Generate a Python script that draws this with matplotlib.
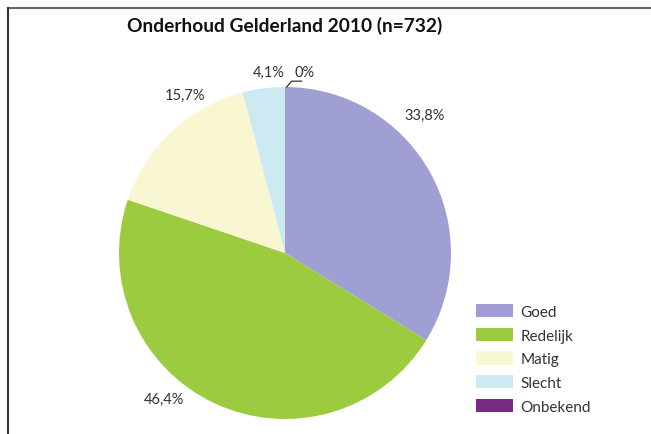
import numpy as np
import matplotlib
matplotlib.use("Agg")
import matplotlib.pyplot as plt
from matplotlib.patches import Patch
from matplotlib.lines import Line2D

plt.rcParams['font.family'] = ['Lato', 'DejaVu Sans']

# onderhoudstoestand, aandeel in procenten
categories = ['Goed', 'Redelijk', 'Matig', 'Slecht', 'Onbekend']
shares = [33.8, 46.4, 15.7, 4.1, 0.0]
share_labels = ['33,8%', '46,4%', '15,7%', '4,1%', '0%']
colors = ['#a09fd3', '#9dcb3f', '#f9f6d2', '#cde9f1', '#7b2a84']
title = 'Onderhoud Gelderland 2010 (n=732)'

# label positions (x, y) in pie radius units
label_pos = [(0.84, 0.83), (-0.73, -0.88), (-0.60, 0.95), (-0.10, 1.09), (0.12, 1.09)]

W, H = 651, 435
fig = plt.figure(figsize=(W / 100, H / 100), dpi=100)
cx, cy, r = 285, 254, 166
ax = fig.add_axes([(cx - r) / W, (H - cy - r) / H, 2 * r / W, 2 * r / H])

ax.pie(shares, colors=colors, startangle=90, counterclock=False, radius=1,
       wedgeprops=dict(linewidth=0))
ax.set_xlim(-1, 1)
ax.set_ylim(-1, 1)
ax.axis('off')

for txt, (x, y) in zip(share_labels, label_pos):
    ax.text(x, y, txt, ha='center', va='center', fontsize=10.5, color='#333333')

# leader line for the empty slice
ax.plot([0.01, 0.04, 0.10], [1.0, 1.035, 1.035], color='#333333', lw=0.9, clip_on=False)

fig.text(cx / W, 1 - 26 / H, title, ha='center', va='center',
         fontsize=13.8, fontweight='bold', color='#111111')

handles = [Patch(facecolor=c, edgecolor='none', label=l) for c, l in zip(colors, categories)]
fig.legend(handles=handles, loc='upper left', bbox_to_anchor=(476 / W, 1 - 305 / H),
           frameon=False, fontsize=11, handlelength=2.4, handleheight=0.95,
           labelspacing=0.58, handletextpad=0.5, borderpad=0, borderaxespad=0,
           labelcolor='#333333')

# frame lines along top and left
fig.add_artist(Line2D([7.5 / W, 1], [1 - 8.5 / H, 1 - 8.5 / H], color='#666666', lw=1.5,
                      transform=fig.transFigure))
fig.add_artist(Line2D([7.5 / W, 7.5 / W], [0, 1 - 8.5 / H], color='#333333', lw=1.5,
                      transform=fig.transFigure))

fig.savefig('out.png', dpi=100)
